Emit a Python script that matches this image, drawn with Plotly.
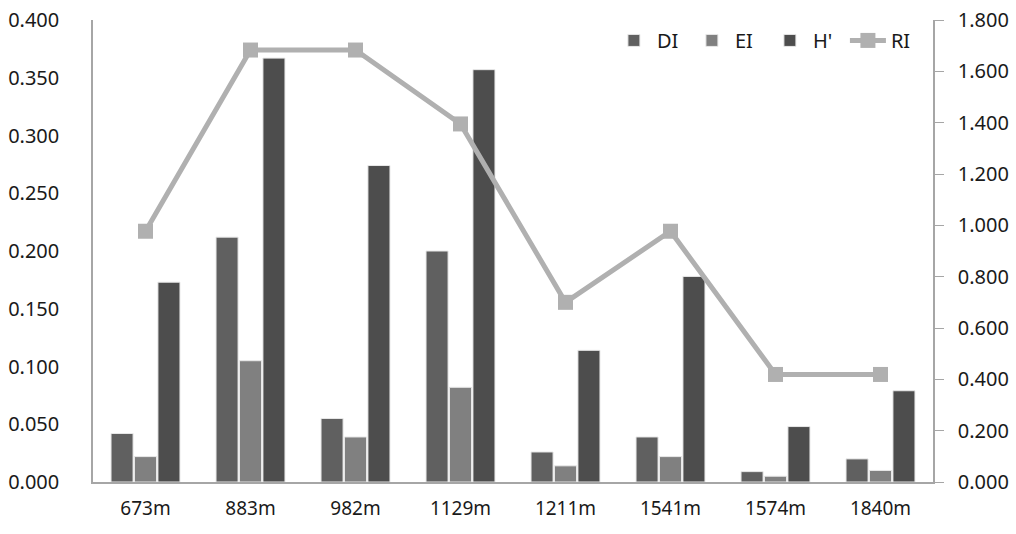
import plotly.graph_objects as go

sites = ["673m", "883m", "982m", "1129m", "1211m", "1541m", "1574m", "1840m"]
di = [0.042, 0.212, 0.055, 0.200, 0.026, 0.039, 0.009, 0.020]
ei = [0.022, 0.105, 0.039, 0.082, 0.014, 0.022, 0.005, 0.010]
h_prime = [0.173, 0.367, 0.274, 0.357, 0.114, 0.178, 0.048, 0.079]
ri = [0.977, 1.683, 1.683, 1.395, 0.700, 0.977, 0.419, 0.419]

FONT = "Noto Sans"
TXT = "#1a1a1a"
AXIS = "#a6a6a6"

fig = go.Figure()
bar_line = dict(color="#e8e8e8", width=1)
fig.add_trace(go.Bar(x=sites, y=di, name="DI", marker=dict(color="#606060", line=bar_line)))
fig.add_trace(go.Bar(x=sites, y=ei, name="EI", marker=dict(color="#808080", line=bar_line)))
fig.add_trace(go.Bar(x=sites, y=h_prime, name="H'", marker=dict(color="#4d4d4d", line=bar_line)))
fig.add_trace(go.Scatter(
    x=sites, y=ri, name="RI", yaxis="y2", mode="lines+markers",
    line=dict(color="#b0b0b0", width=5),
    marker=dict(symbol="square", size=15, color="#b0b0b0"),
))

fig.update_layout(
    width=1016, height=534,
    margin=dict(l=93, r=83, t=20, b=52),
    paper_bgcolor="white", plot_bgcolor="white",
    font=dict(family=FONT, size=20, color=TXT),
    barmode="group", bargap=0.33, bargroupgap=0.06,
    showlegend=True,
    legend=dict(
        orientation="h", x=0.988, xanchor="right", y=0.998, yanchor="top",
        font=dict(size=20, color=TXT), bgcolor="rgba(0,0,0,0)",
        itemwidth=36, entrywidth=27, traceorder="normal",
    ),
    xaxis=dict(
        showline=True, linecolor=AXIS, linewidth=1.5, ticks="",
        showgrid=False, tickfont=dict(size=19), ticklabelstandoff=8,
        automargin=False,
    ),
    yaxis=dict(
        range=[0, 0.4], dtick=0.05, tickformat=".3f",
        showline=True, linecolor=AXIS, linewidth=1.5, showgrid=False,
        zeroline=False, ticks="", ticklabelstandoff=28, automargin=False,
    ),
    yaxis2=dict(
        range=[0, 1.8], dtick=0.2, tickformat=".3f", overlaying="y", side="right",
        showline=True, linecolor=AXIS, linewidth=1.5, showgrid=False,
        zeroline=False, ticks="outside", ticklen=9, tickcolor=AXIS, tickwidth=1,
        ticklabelstandoff=10, automargin=False,
    ),
)

fig.write_html("out.html")
